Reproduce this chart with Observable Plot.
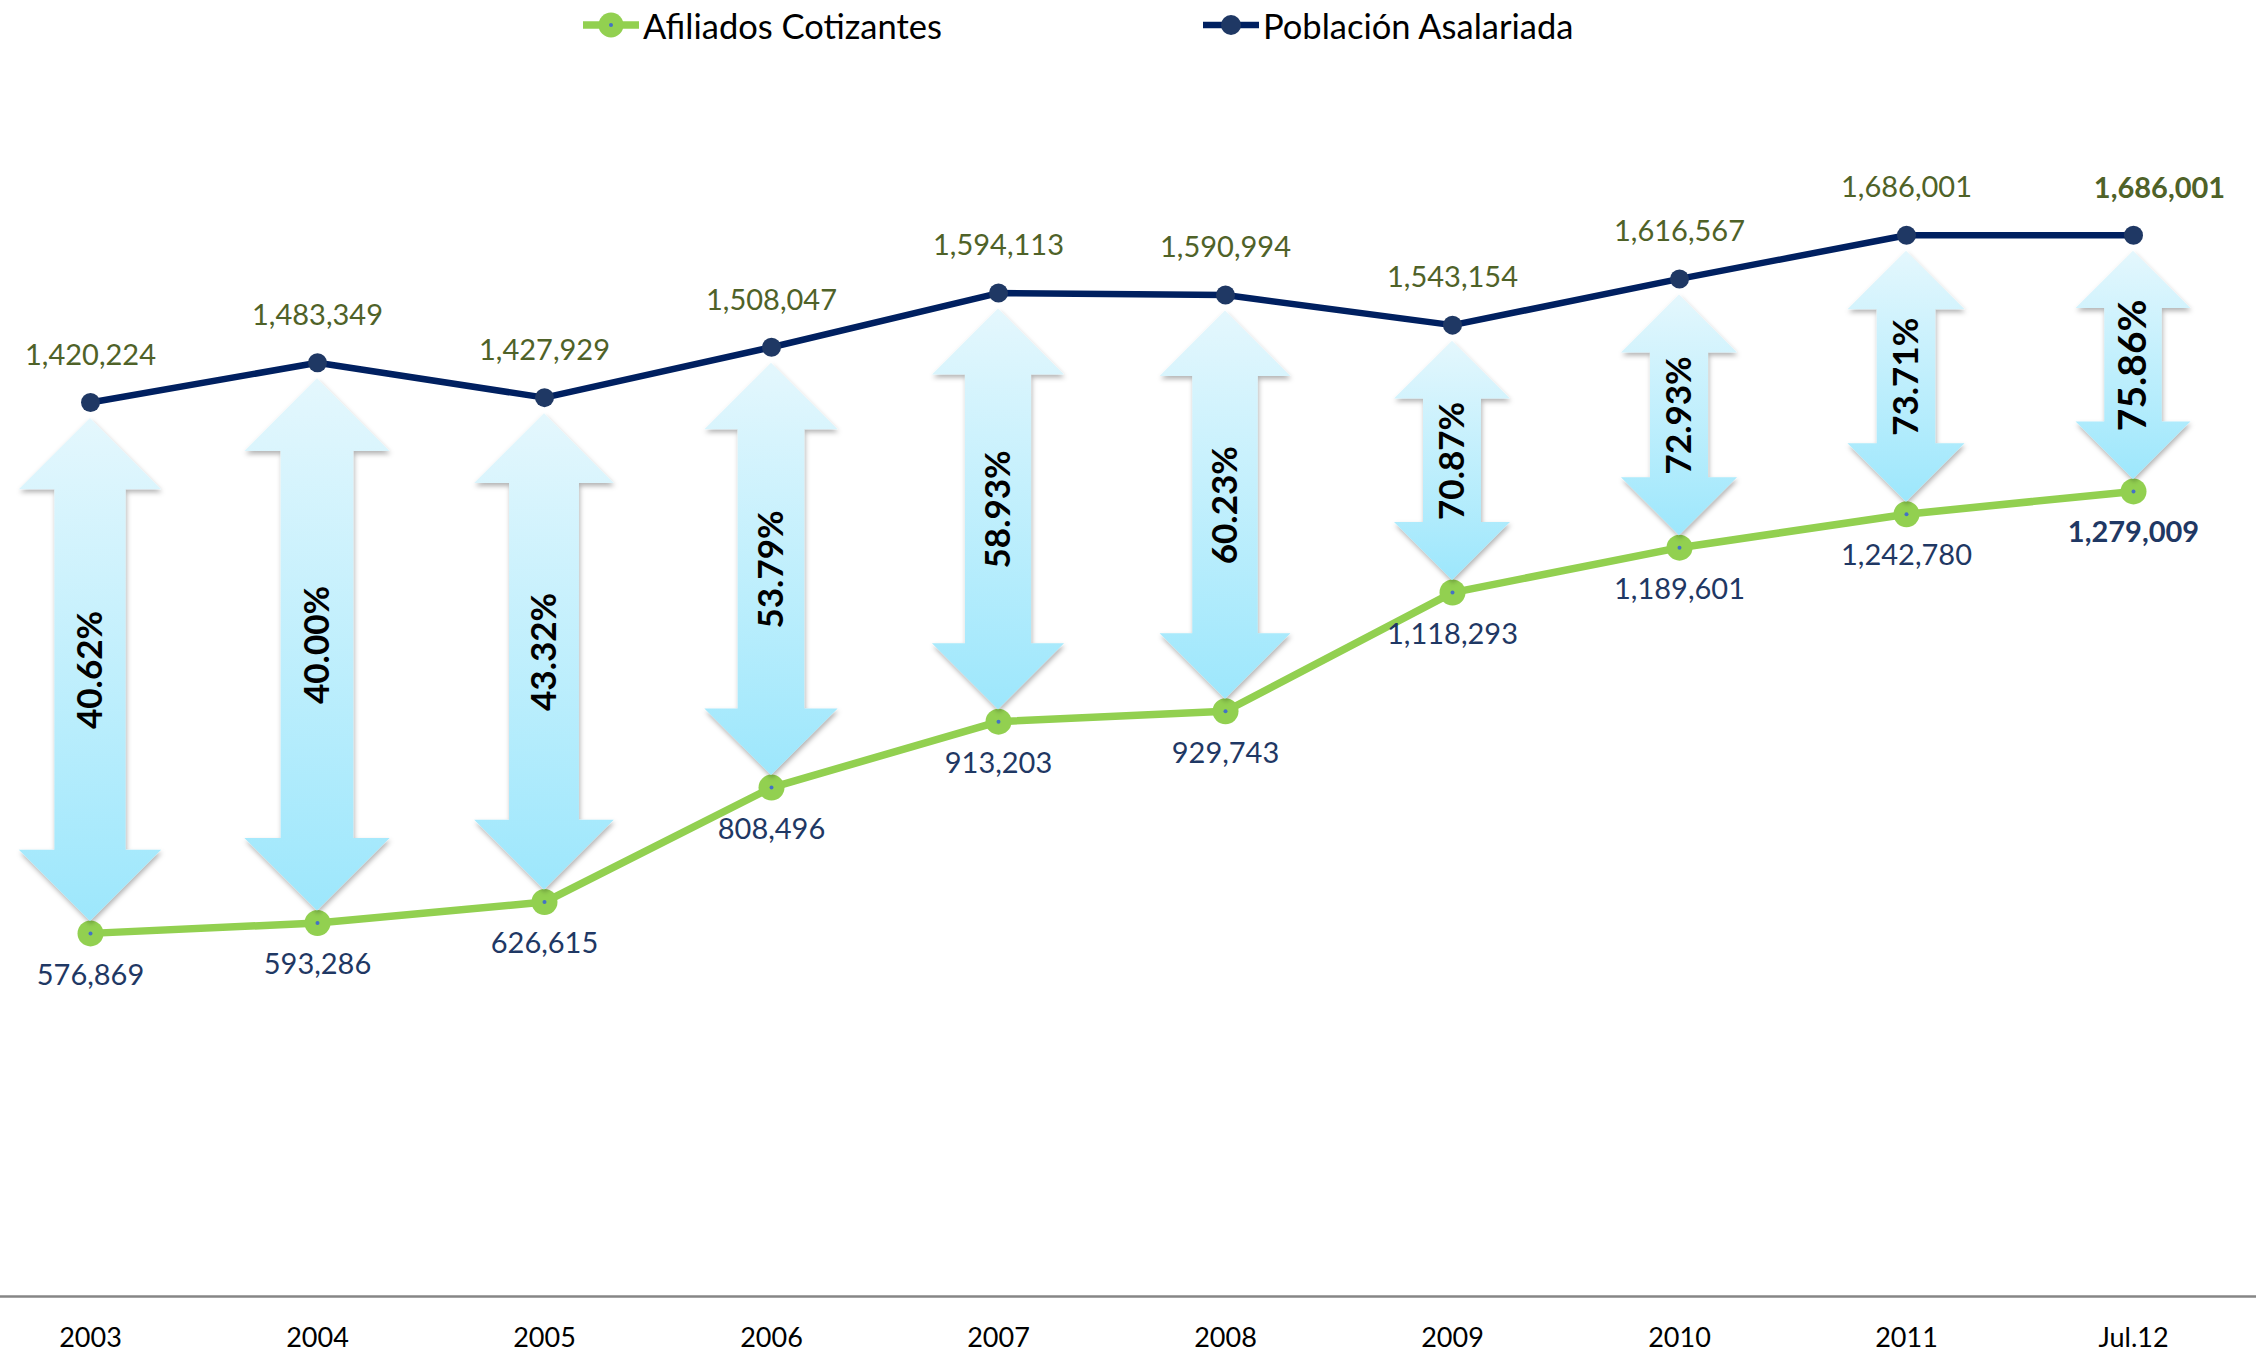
<!DOCTYPE html>
<html><head><meta charset="utf-8">
<script src="https://cdn.jsdelivr.net/npm/d3@7"></script>
<script src="https://cdn.jsdelivr.net/npm/@observablehq/plot@0.6"></script>
<style>
html,body{margin:0;padding:0;background:#fff;}
body{font-family:Lato,"Open Sans",sans-serif;width:2256px;height:1357px;overflow:hidden;}
#legend{position:relative;height:50px;width:2256px;}
.item{position:absolute;top:0;height:50px;display:flex;align-items:center;font-size:34.5px;color:#000;white-space:nowrap;}
.item svg{display:block;margin-right:4px;}
</style></head><body>
<div id="legend"></div>
<div id="chart"></div>
<script>
// ---- data ----
const categories = ["2003","2004","2005","2006","2007","2008","2009","2010","2011","Jul.12"];
const poblacionAsalariada = [1420224,1483349,1427929,1508047,1594113,1590994,1543154,1616567,1686001,1686001];
const afiliadosCotizantes = [576869,593286,626615,808496,913203,929743,1118293,1189601,1242780,1279009];
const coberturaLabels = ["40.62%","40.00%","43.32%","53.79%","58.93%","60.23%","70.87%","72.93%","73.71%","75.86%"];
const seriesNames = ["Afiliados Cotizantes","Población Asalariada"];

// ---- styles ----
const GREEN = "#92D050", NAVY = "#002060", NAVYDOT = "#1F3864";
const OLIVE = "#4F6228", LABELNAVY = "#1F3864";
const ML = 88, MR = 122;
const gapTop = 16, gapBottom = 12;

const rows = categories.map((c, i) => ({
  cat: c, pob: poblacionAsalariada[i], afil: afiliadosCotizantes[i], pct: coberturaLabels[i], last: i === categories.length - 1
}));

// ---- legend ----
const legend = document.getElementById("legend");
function legendItem(name, left, color, dotColor, r, lw, inner) {
  const div = document.createElement("div");
  div.className = "item";
  div.style.left = left + "px";
  const w = 56;
  div.innerHTML = `<svg width="${w}" height="40"><line x1="0" x2="${w}" y1="20" y2="20" stroke="${color}" stroke-width="${lw}"/>` +
    `<circle cx="${w/2}" cy="20" r="${r}" fill="${dotColor}"/>` +
    (inner ? `<circle cx="${w/2}" cy="20" r="2" fill="#4472C4"/>` : "") + `</svg><span>${name}</span>`;
  legend.appendChild(div);
}
legendItem(seriesNames[0], 583, GREEN, GREEN, 12.5, 7.5, true);
legendItem(seriesNames[1], 1203, NAVY, NAVYDOT, 10, 6.5, false);

// ---- arrows (custom render mark using Plot scales) ----
function arrows(index, scales) {
  const g = d3.create("svg:g");
  const defs = g.append("defs");
  const grad = defs.append("linearGradient").attr("id", "arrowGrad")
    .attr("x1", 0).attr("y1", 0).attr("x2", 0).attr("y2", 1);
  grad.append("stop").attr("offset", "0%").attr("stop-color", "#E4F7FD");
  grad.append("stop").attr("offset", "100%").attr("stop-color", "#9DE7FC");
  const f = defs.append("filter").attr("id", "arrowShadow")
    .attr("x", "-20%").attr("y", "-10%").attr("width", "140%").attr("height", "125%");
  f.append("feDropShadow").attr("dx", 1).attr("dy", 3).attr("stdDeviation", 2.5)
    .attr("flood-color", "#000").attr("flood-opacity", 0.3);
  for (const d of rows) {
    const cx = scales.x(d.cat);
    const top = scales.y(d.pob) + gapTop;
    const bot = scales.y(d.afil) - gapBottom;
    const L = bot - top;
    const hw = Math.min(150, 92 + 0.1 * L) / 2;
    const sw = hw / 2;
    const hh = hw;
    const p = [
      [cx, top], [cx + hw, top + hh], [cx + sw, top + hh], [cx + sw, bot - hh],
      [cx + hw, bot - hh], [cx, bot], [cx - hw, bot - hh], [cx - sw, bot - hh],
      [cx - sw, top + hh], [cx - hw, top + hh]
    ];
    g.append("path").attr("d", "M" + p.map(q => q.join(",")).join("L") + "Z")
      .attr("fill", "url(#arrowGrad)").attr("filter", "url(#arrowShadow)");
  }
  return g.node();
}

const midY = d => (d.pob + d.afil) / 2;
const notLast = rows.filter(d => !d.last);
const lastRow = rows.filter(d => d.last);
const fmt = d3.format(",");

const chart = Plot.plot({
  width: 2256,
  height: 1307,
  marginLeft: ML,
  marginRight: MR,
  marginTop: 50,
  marginBottom: 61,
  style: {fontFamily: "Lato, 'Open Sans', sans-serif", fontSize: "27px", background: "#fff", color: "#000", overflow: "visible"},
  x: {type: "point", domain: categories, padding: 0, tickSize: 0, tickPadding: 31, label: null},
  y: {domain: [0, 1900000], axis: null},
  marks: [
    Plot.ruleY([0], {stroke: "#868686", strokeWidth: 2.5, insetLeft: -ML, insetRight: -MR}),
    Plot.line(rows, {x: "cat", y: "pob", stroke: NAVY, strokeWidth: 6.5}),
    Plot.dot(rows, {x: "cat", y: "pob", r: 9.5, fill: NAVYDOT}),
    Plot.line(rows, {x: "cat", y: "afil", stroke: GREEN, strokeWidth: 7.5}),
    Plot.dot(rows, {x: "cat", y: "afil", r: 13, fill: GREEN}),
    Plot.dot(rows, {x: "cat", y: "afil", r: 2, fill: "#4472C4"}),
    arrows,
    Plot.text(notLast, {x: "cat", y: midY, dy: (gapTop - gapBottom) / 2, text: "pct", rotate: -90, fontSize: 35, fontWeight: "bold", fill: "#000"}),
    Plot.text(lastRow, {x: "cat", y: midY, dy: (gapTop - gapBottom) / 2, text: "pct", rotate: -90, fontSize: 39, fontWeight: "bold", fill: "#000"}),
    Plot.text(notLast, {x: "cat", y: "pob", dy: -47, text: d => fmt(d.pob), fontSize: 29, fill: OLIVE}),
    Plot.text(lastRow, {x: "cat", y: "pob", dy: -46, dx: 26, text: d => fmt(d.pob), fontSize: 29, fontWeight: "bold", fill: OLIVE}),
    Plot.text(notLast, {x: "cat", y: "afil", dy: 42, text: d => fmt(d.afil), fontSize: 29, fill: LABELNAVY}),
    Plot.text(lastRow, {x: "cat", y: "afil", dy: 41, text: d => fmt(d.afil), fontSize: 29, fontWeight: "bold", fill: LABELNAVY})
  ]
});
document.getElementById("chart").appendChild(chart);
</script>
</body></html>
